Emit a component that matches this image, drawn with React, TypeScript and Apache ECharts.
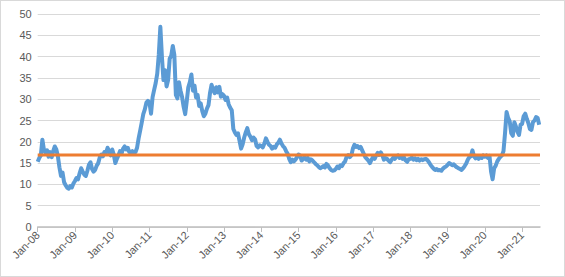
import React, { useEffect, useRef } from "react";
import * as echarts from "echarts";

// Semi-monthly readings (24 per year) of the blue series
const v2008 = [15.3, 16.2, 16.8, 20.5, 18.2, 17.4, 18.0, 16.5, 17.6, 16.4, 17.8, 18.9, 18.2, 16.6, 14.0, 12.0, 12.8, 10.5, 9.8, 9.2, 9.0, 9.6, 9.3, 10.2];
const v2009 = [10.8, 11.5, 11.2, 12.6, 13.8, 13.0, 12.3, 12.0, 13.2, 14.6, 15.2, 13.6, 13.0, 13.4, 14.4, 15.0, 16.4, 17.0, 16.6, 17.6, 17.4, 18.6, 17.8, 16.8];
const v2010 = [18.2, 17.0, 15.0, 16.0, 16.8, 17.8, 17.2, 18.4, 18.9, 18.2, 18.6, 17.6, 17.4, 17.8, 17.3, 17.6, 18.6, 20.8, 22.6, 24.5, 26.5, 27.6, 29.2, 29.6];
const v2011 = [29.2, 26.6, 30.5, 32.2, 33.8, 36.0, 40.5, 47.0, 40.0, 34.5, 36.8, 33.0, 34.5, 39.5, 40.2, 42.5, 40.4, 31.0, 30.2, 34.0, 32.0, 30.5, 28.2, 26.5];
const v2012 = [29.5, 32.8, 34.0, 35.8, 32.0, 33.2, 30.4, 31.0, 28.4, 29.0, 27.2, 26.0, 26.6, 27.8, 28.6, 31.5, 33.4, 32.2, 31.4, 32.8, 31.6, 32.9, 30.6, 31.2];
const v2013 = [30.8, 29.8, 30.4, 28.8, 28.0, 27.4, 23.0, 22.2, 21.6, 22.0, 20.2, 18.4, 19.4, 21.0, 22.2, 23.2, 21.8, 21.2, 20.4, 21.0, 20.6, 19.0, 18.7, 19.2];
const v2014 = [19.0, 18.7, 19.6, 20.8, 20.0, 19.3, 19.0, 18.4, 18.8, 18.6, 19.4, 19.8, 20.5, 19.6, 19.0, 18.6, 17.8, 17.2, 16.0, 15.2, 15.8, 15.4, 15.8, 16.4];
const v2015 = [17.0, 16.8, 15.6, 16.0, 16.4, 15.8, 16.2, 15.4, 15.9, 15.6, 15.2, 14.8, 14.5, 14.1, 13.8, 14.0, 14.3, 14.0, 14.8, 14.4, 13.8, 13.4, 13.2, 13.3];
const v2016 = [13.6, 14.2, 13.8, 14.5, 14.3, 15.0, 15.4, 16.5, 16.9, 16.4, 16.8, 18.4, 19.3, 18.8, 19.0, 18.5, 18.8, 18.0, 17.2, 16.4, 16.0, 15.6, 15.0, 15.8];
const v2017 = [16.4, 16.0, 16.8, 17.4, 16.9, 17.5, 16.8, 15.8, 16.2, 16.0, 15.6, 15.2, 15.8, 16.3, 16.0, 16.6, 16.8, 16.2, 16.5, 16.0, 16.3, 15.6, 15.3, 15.9];
const v2018 = [16.0, 16.3, 15.8, 16.1, 15.7, 16.0, 15.6, 15.9, 15.7, 15.9, 16.0, 15.7, 15.2, 14.6, 14.1, 13.7, 13.4, 13.6, 13.3, 13.4, 13.2, 13.7, 14.0, 14.2];
const v2019 = [14.6, 15.0, 14.8, 14.5, 14.7, 14.3, 14.0, 13.8, 13.6, 13.4, 13.8, 14.3, 14.9, 15.8, 16.4, 16.6, 18.0, 16.6, 16.1, 16.4, 16.0, 16.5, 16.2, 16.8];
const v2020 = [16.5, 16.8, 16.2, 16.7, 13.0, 11.2, 13.8, 14.4, 15.4, 16.0, 16.5, 16.8, 17.8, 22.0, 27.0, 25.6, 24.8, 22.0, 21.4, 24.6, 23.6, 22.4, 21.6, 24.0];
const v2021 = [24.2, 26.0, 26.6, 25.4, 24.4, 23.0, 22.8, 24.6, 25.0, 25.8, 25.6, 24.0];

const years = [2008, 2009, 2010, 2011, 2012, 2013, 2014, 2015, 2016, 2017, 2018, 2019, 2020, 2021];
const yearValues = [v2008, v2009, v2010, v2011, v2012, v2013, v2014, v2015, v2016, v2017, v2018, v2019, v2020, v2021];
const pointsPerYear = 24;

const averageLevel = 16.9;
const xStart = 2008;
const xEnd = 2021.48;
const xTickYears = years;
const yMin = 0;
const yMax = 50;
const yStep = 5;

const FONT = "'Liberation Sans', Arial, sans-serif";

export default function App() {
  const ref = useRef<HTMLDivElement>(null);

  useEffect(() => {
    if (!ref.current) return;
    const chart = echarts.init(ref.current, undefined, { renderer: "svg" });

    const blueData: [number, number][] = [];
    years.forEach((y, k) => {
      yearValues[k].forEach((v, i) => {
        blueData.push([y + i / pointsPerYear, v]);
      });
    });
    const avgData: [number, number][] = [
      [xStart, averageLevel],
      [xEnd, averageLevel],
    ];

    chart.setOption({
      animation: false,
      grid: { left: 37.7, right: 25, top: 14, bottom: 50, containLabel: false },
      xAxis: {
        type: "value",
        min: xStart,
        max: xEnd,
        splitLine: { show: false },
        axisLine: { show: true, onZero: false, lineStyle: { color: "#bfbfbf", width: 1.5 } },
        axisTick: {
          show: true,
          customValues: xTickYears,
          length: 5,
          lineStyle: { color: "#bfbfbf", width: 1 },
        },
        axisLabel: {
          customValues: xTickYears,
          rotate: 45,
          margin: 6,
          color: "#595959",
          fontSize: 11,
          fontFamily: FONT,
          formatter: (val: number) => "Jan-" + String(Math.round(val) % 100).padStart(2, "0"),
        },
      },
      yAxis: {
        type: "value",
        min: yMin,
        max: yMax,
        interval: yStep,
        axisLine: { show: false },
        axisTick: { show: false },
        axisLabel: { color: "#595959", fontSize: 11, fontFamily: FONT, margin: 6 },
        splitLine: { lineStyle: { color: "#d9d9d9", width: 1 } },
      },
      series: [
        {
          type: "line",
          data: blueData,
          showSymbol: false,
          symbol: "none",
          lineStyle: { color: "#5b9bd5", width: 4, join: "round" },
          itemStyle: { color: "#5b9bd5" },
          z: 2,
        },
        {
          type: "line",
          data: avgData,
          showSymbol: false,
          symbol: "none",
          lineStyle: { color: "#ed7d31", width: 3 },
          itemStyle: { color: "#ed7d31" },
          z: 3,
        },
      ],
    });

    return () => chart.dispose();
  }, []);

  return (
    <div style={{ position: "absolute", left: 0, top: 0, width: 565, height: 277, background: "#fff" }}>
      <div ref={ref} style={{ position: "absolute", left: 0, top: 0, width: 565, height: 277 }} />
      <div
        style={{
          position: "absolute",
          left: 0,
          top: 0,
          width: 565,
          height: 277,
          border: "1px solid #d9d9d9",
          boxSizing: "border-box",
          pointerEvents: "none",
        }}
      />
    </div>
  );
}
